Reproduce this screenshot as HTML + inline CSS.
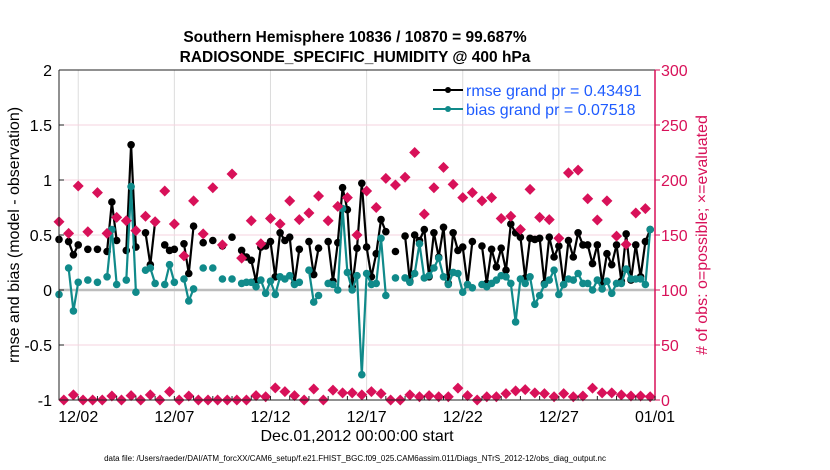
<!DOCTYPE html>
<html><head><meta charset="utf-8"><style>
body{margin:0;background:#fff;}
svg{display:block;font-family:"Liberation Sans",sans-serif;}
</style></head><body>
<svg id="chart" width="830" height="470" viewBox="0 0 830 470">
<g id="grid"></g>
<g id="marks"></g>
<g id="axes"></g>
<text x="355" y="42" text-anchor="middle" font-size="15.5" font-weight="bold">Southern Hemisphere 10836 / 10870 = 99.687%</text>
<text x="355" y="62" text-anchor="middle" font-size="15.5" font-weight="bold">RADIOSONDE_SPECIFIC_HUMIDITY @ 400 hPa</text>
<text transform="translate(19,235) rotate(-90)" text-anchor="middle" font-size="16">rmse and bias (model - observation)</text>
<text transform="translate(707,235) rotate(-90)" text-anchor="middle" font-size="16" fill="#d81159"># of obs: o=possible; ×=evaluated</text>
<text x="357" y="441" text-anchor="middle" font-size="16">Dec.01,2012 00:00:00 start</text>
<text x="355" y="461" text-anchor="middle" font-size="8">data file: /Users/raeder/DAI/ATM_forcXX/CAM6_setup/f.e21.FHIST_BGC.f09_025.CAM6assim.011/Diags_NTrS_2012-12/obs_diag_output.nc</text>
<g>
<line x1="433" y1="90" x2="463" y2="90" stroke="#000" stroke-width="2"/>
<circle cx="448" cy="90" r="3" fill="#000"/>
<text x="466" y="96" font-size="16" fill="#1f5cff">rmse grand pr = 0.43491</text>
<line x1="433" y1="109" x2="463" y2="109" stroke="#108a8a" stroke-width="2"/>
<circle cx="448" cy="109" r="3" fill="#108a8a"/>
<text x="466" y="115" font-size="16" fill="#1f5cff">bias grand pr = 0.07518</text>
</g>
</svg>
<script>
const rmse=[0.46,null,0.44,0.32,0.41,null,0.37,null,0.37,null,0.35,0.80,0.45,null,0.36,1.32,0.39,null,0.52,0.23,0.62,null,0.41,0.36,0.37,null,0.42,0.15,0.58,null,0.43,null,0.45,null,0.40,null,0.48,null,0.36,0.30,0.27,0.08,0.39,0.40,0.44,0.12,0.52,0.45,0.48,0.06,0.37,null,0.44,0.14,0.38,null,0.44,0.08,0.43,0.93,0.73,0.03,0.38,0.97,0.39,0.12,0.33,0.64,0.53,null,0.35,null,0.49,0.08,0.50,0.45,0.55,0.12,0.52,0.30,0.57,0.06,0.52,0.36,0.39,0.05,0.44,null,0.40,0.06,0.37,0.21,0.38,0.18,0.60,0.52,0.48,0.11,0.47,0.46,0.47,0.06,0.48,0.30,0.40,0.05,0.45,0.30,0.52,0.41,0.41,0.24,0.41,0.06,0.33,0.23,0.41,0.08,0.51,0.09,0.41,0.12,0.44,0.55];
const bias=[-0.04,null,0.20,-0.19,0.07,null,0.09,null,0.07,null,0.12,0.55,0.05,null,0.09,0.94,-0.02,null,0.18,0.20,0.06,null,0.05,0.23,0.07,null,0.10,-0.10,0.01,null,0.20,null,0.20,null,0.10,null,0.10,null,0.06,0.07,0.07,0.03,0.09,-0.03,0.08,-0.04,0.12,0.10,0.13,0.05,0.07,null,0.18,-0.11,-0.05,null,0.06,0.05,0.00,0.74,0.16,0.00,0.13,-0.77,0.15,0.05,0.06,0.47,-0.05,null,0.11,null,0.11,0.07,0.15,0.42,0.11,0.13,0.20,0.29,0.12,0.05,0.16,0.15,-0.02,0.05,0.02,null,0.05,0.03,0.06,0.09,0.13,0.12,0.06,-0.29,0.10,0.06,0.12,-0.13,-0.05,0.05,0.09,0.18,-0.04,0.05,0.10,0.09,0.15,0.06,0.06,0.00,0.09,0.01,0.08,-0.03,0.06,0.06,0.19,0.10,0.10,0.10,0.05,0.55];
const obsMain=[162,151.5,194.5,153,188.5,151.5,166,163,154,167,162,190,160,131,181,151,193,141,205.5,129,163,142,165,160,181,164,170,185.5,163,176,184,150,190,175,201.5,195.5,202.5,225,169,193,211.5,196,184,188.5,181,184,165,167,155,191.5,166,164,147,206.5,209,183,163.6,181,149,141.5,170,174];
const obsOff=[0,4.7,0,0,0,3.6,0,4,0,4.7,0,7.6,0,3.6,0,0,0,0,0,0,4,2.9,11,7.6,4,0,10,0,9,6.5,6.5,4.7,7.6,5.8,0,0,4.7,2.9,4,2.9,2.9,10.8,4,0,2.9,2.9,5.8,8.3,9.4,6.5,5.8,2.9,5.8,2.9,3.6,10.8,6.5,6.5,4.7,3.6,3.6,2.9];
const leftTicks=[2,1.5,1,0.5,0,-0.5,-1];
const leftTickLabels=["2","1.5","1","0.5","0","-0.5","-1"];
const rightTicks=[300,250,200,150,100,50,0];
const dayTicks=[1,6,11,16,21,26,31];
const dayTickLabels=["12/02","12/07","12/12","12/17","12/22","12/27","01/01"];

const L=59,R=655,T=70,B=400,DAYS=31;
const xS=t=>L+(R-L)*t/DAYS;
const yL=v=>B-(B-T)*(v+1)/3;
const yR=c=>B-(B-T)*c/300;
const NS="http://www.w3.org/2000/svg";
function mk(tag,attrs,parent){const e=document.createElementNS(NS,tag);for(const k in attrs)e.setAttribute(k,attrs[k]);parent.appendChild(e);return e;}
const grid=document.getElementById('grid'),marks=document.getElementById('marks'),axes=document.getElementById('axes');

dayTicks.forEach((d,i)=>{
  const g=mk('line',{x1:xS(d),x2:xS(d),y1:T,y2:B,stroke:'#dcdcdc','stroke-width':1},grid);
  
  
  const t=mk('text',{x:xS(d),y:B+22,'text-anchor':'middle','font-size':16},axes);
  t.textContent=dayTickLabels[i];
  
  
});
rightTicks.forEach(c=>{
  if(c===0||c===300)return;
  const g=mk('line',{x1:L,x2:R,y1:yR(c),y2:yR(c),stroke:'#f6d3df','stroke-width':1},grid);
  
  
});
const zl=mk('line',{x1:L,x2:R,y1:yL(0),y2:yL(0),stroke:'#bdbdbd','stroke-width':2.5},grid);



function series(vals,color,name){
  const g=mk('g',{},marks);
  
  
  for(let i=1;i<vals.length;i++){
    if(vals[i]!==null&&vals[i-1]!==null)
      mk('line',{x1:xS((i-1)/4),y1:yL(vals[i-1]),x2:xS(i/4),y2:yL(vals[i]),stroke:color,'stroke-width':2.2},g);
  }
  vals.forEach((v,i)=>{
    if(v===null)return;
    const c=mk('circle',{cx:xS(i/4),cy:yL(v),r:3.8,fill:color},g);
    
    
  });
}
series(rmse,'#000','rmse-series');
series(bias,'#108a8a','bias-series');

function diamond(x,y,g){
  const d=mk('path',{d:`M${x},${y-5.5}L${x+5.5},${y}L${x},${y+5.5}L${x-5.5},${y}Z`,fill:'#d81159'},g);
  
  
}
const og=mk('g',{},marks);


obsMain.forEach((c,k)=>diamond(xS(k*0.5),yR(c),og));
obsOff.forEach((c,k)=>diamond(xS(0.25+k*0.5),yR(c),og));

mk('line',{x1:L,x2:L,y1:T,y2:B,stroke:'#222','stroke-width':1},axes);
mk('line',{x1:L,x2:R,y1:B,y2:B,stroke:'#222','stroke-width':1},axes);
mk('line',{x1:L,x2:R,y1:T,y2:T,stroke:'#222','stroke-width':1},axes);
mk('line',{x1:R,x2:R,y1:T,y2:B,stroke:'#d81159','stroke-width':1.5},axes);
leftTicks.forEach((v,i)=>{
  mk('line',{x1:L,x2:L+5,y1:yL(v),y2:yL(v),stroke:'#222'},axes);
  const t=mk('text',{x:L-7,y:yL(v)+6,'text-anchor':'end','font-size':16},axes);
  t.textContent=leftTickLabels[i];
  
  
});
rightTicks.forEach(c=>{
  mk('line',{x1:R,x2:R+5,y1:yR(c),y2:yR(c),stroke:'#d81159'},axes);
  const t=mk('text',{x:R+6,y:yR(c)+6,'font-size':16,fill:'#d81159'},axes);
  t.textContent=String(c);
  
  
});
for(let d=0;d<=DAYS;d++){
  mk('line',{x1:xS(d),x2:xS(d),y1:B,y2:B-4,stroke:'#222'},axes);
}
</script>
</body></html>
